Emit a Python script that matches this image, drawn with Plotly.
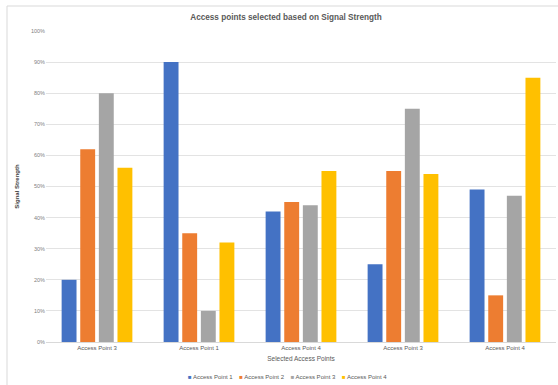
import plotly.graph_objects as go

# Selected access point in each measurement round (labels repeat, so positions are indexed)
selected_points = ["Access Point 3", "Access Point 1", "Access Point 4", "Access Point 3", "Access Point 4"]
positions = list(range(len(selected_points)))

series_names = ["Access Point 1", "Access Point 2", "Access Point 3", "Access Point 4"]
ap1 = [20, 90, 42, 25, 49]
ap2 = [62, 35, 45, 55, 15]
ap3 = [80, 10, 44, 75, 47]
ap4 = [56, 32, 55, 54, 85]
series_values = [ap1, ap2, ap3, ap4]
colors = ["#4472C4", "#ED7D31", "#A5A5A5", "#FFC000"]

y_ticks = list(range(0, 101, 10))
y_tick_labels = [f"{v}%" for v in y_ticks]

font_family = "Liberation Sans, Arial, sans-serif"

fig = go.Figure()
for name, vals, col in zip(series_names, series_values, colors):
    fig.add_trace(go.Bar(
        x=positions, y=vals, name=name, showlegend=False,
        marker=dict(color=col, line=dict(width=0)),
    ))

# Compact inline legend: small coloured square followed by the series name
legend_text = "&nbsp;&nbsp;&nbsp;&nbsp;".join(
    f"<span style='color:{c};font-size:6px'>■</span> {n}"
    for n, c in zip(series_names, colors)
)

fig.update_layout(
    width=558, height=385,
    margin=dict(l=46, r=2, t=31, b=43, autoexpand=False),
    paper_bgcolor="white", plot_bgcolor="white",
    barmode="group", bargap=0.27, bargroupgap=0.2,
    font=dict(family=font_family, color="#595959", size=6),
    title=dict(
        text="<b>Access points selected based on Signal Strength</b>",
        x=286 / 558, xref="container", xanchor="center",
        y=1 - 17 / 385, yref="container", yanchor="middle",
        font=dict(size=8.2, color="#595959", family=font_family),
    ),
    showlegend=False,
    annotations=[dict(
        text=legend_text, showarrow=False,
        xref="paper", yref="paper",
        x=(287 - 46) / 510, xanchor="center",
        y=(342 - 377) / 311, yanchor="middle",
        font=dict(size=6, color="#595959", family=font_family),
    )],
    xaxis=dict(
        tickmode="array", tickvals=positions, ticktext=selected_points,
        range=[-0.5, len(selected_points) - 0.5],
        showgrid=False, zeroline=False, automargin=False,
        showline=True, linecolor="#d9d9d9", linewidth=1,
        ticks="", tickfont=dict(size=6, color="#595959"),
        title=dict(text="Selected Access Points", standoff=6,
                   font=dict(size=6.5, color="#595959")),
    ),
    yaxis=dict(
        range=[0, 100], tickmode="array", tickvals=y_ticks, ticktext=y_tick_labels,
        showgrid=True, gridcolor="#e3e3e3", gridwidth=1,
        zeroline=False, showline=False, ticks="", automargin=False,
        tickfont=dict(size=5.5, color="#7f7f7f"),
        title=dict(text="<b>Signal Strength</b>", standoff=10,
                   font=dict(size=6, color="#404040")),
    ),
    shapes=[dict(
        type="rect", xref="paper", yref="paper",
        x0=(7 - 46) / 510, x1=1.1, y0=-0.2, y1=(342 - 6) / 311,
        line=dict(color="#d9d9d9", width=1), fillcolor="rgba(0,0,0,0)",
        layer="below",
    )],
)

fig.write_html("out.html")
